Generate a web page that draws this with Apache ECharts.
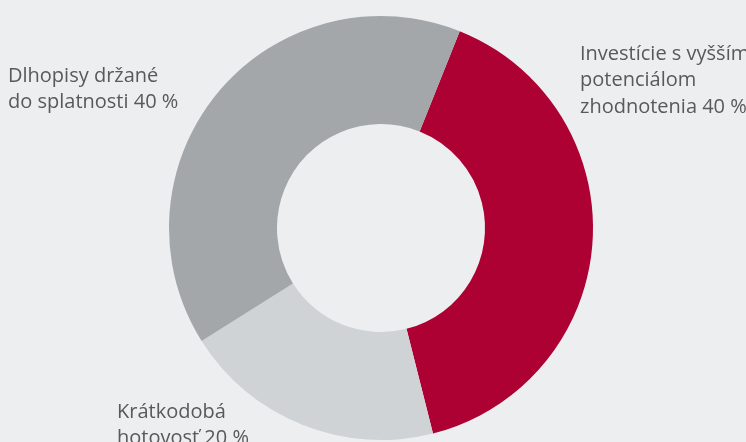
<!DOCTYPE html>
<html><head><meta charset="utf-8">
<script src="https://cdn.jsdelivr.net/npm/echarts@6/dist/echarts.min.js"></script>
<style>html,body{margin:0;padding:0;background:#edeef0;}#c{width:746px;height:442px;}</style>
</head><body><div id="c"></div>
<script>
const categories = ["Investície s vyšším\npotenciálom\nzhodnotenia", "Krátkodobá\nhotovosť", "Dlhopisy držané\ndo splatnosti"];
const values = [40, 20, 40];
const colors = ["#ad0033", "#d0d3d6", "#a3a7aa"];
const labelPos = [[580, 41], [117, 399], [8, 63]];

const chart = echarts.init(document.getElementById('c'), null, {renderer: 'canvas'});
chart.setOption({
  backgroundColor: '#edeef0',
  animation: false,
  series: [{
    type: 'pie',
    center: [381, 228],
    radius: [104, 212],
    startAngle: 68.2,
    clockwise: true,
    silent: true,
    data: categories.map((c, i) => ({name: c, value: values[i], itemStyle: {color: colors[i]}})),
    label: {
      show: true,
      position: 'outside',
      formatter: p => p.name + ' ' + p.value + ' %',
      fontFamily: 'Open Sans',
      fontSize: 20,
      lineHeight: 26.5,
      color: '#595959',
      align: 'left',
      overflow: 'none',
      width: 400
    },
    labelLine: {show: false},
    labelLayout: p => ({x: labelPos[p.dataIndex][0], y: labelPos[p.dataIndex][1], align: 'left', verticalAlign: 'top', hideOverlap: false})
  }]
});
</script></body></html>
